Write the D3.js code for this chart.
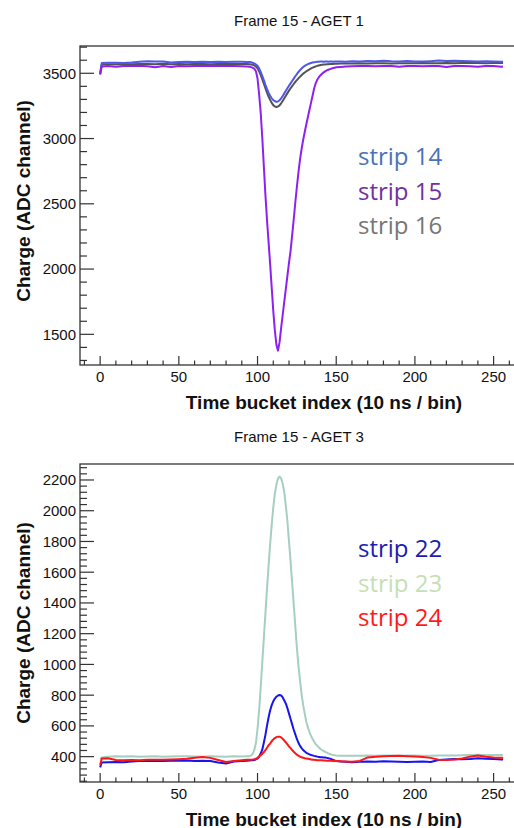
<!DOCTYPE html>
<html>
<head>
<meta charset="utf-8">
<script src="https://cdn.jsdelivr.net/npm/d3@7"></script>
<style>
  html, body { margin: 0; padding: 0; background: #fff; }
  svg { display: block; }
</style>
</head>
<body>
<svg id="chart" width="514" height="828"></svg>
<script>
// ---------------- DATA ----------------
// time bucket indices at which values were read (dense around the pulse)
const bins = [
  0,1,5,10,15,20,25,30,35,40,45,50,55,60,65,70,75,80,85,90,93,
  95,96,97,98,99,100,101,102,103,104,
  105,106,107,108,109,110,111,112,113,114,
  115,116,117,118,119,120,121,122,123,124,
  125,126,127,128,129,130,131,132,133,134,
  135,136,137,138,139,140,141,142,143,144,
  145,146,147,148,149,150,
  153,156,160,165,170,175,180,185,190,195,200,205,210,215,220,225,230,235,240,245,250,255,256
];

// Frame 15 - AGET 1
const strip14 = [
  3495,3578,3580,3581,3579,3582,3588,3592,3591,3590,3582,3586,3588,3587,3588,3586,3589,3587,3588,3588,3587,
  3586,3584,3580,3575,3568,3558,3538,3510,3480,3447,
  3412,3380,3352,3328,3308,3294,3286,3282,3284,3293,
  3308,3326,3346,3366,3386,3405,3423,3441,3459,3477,
  3494,3510,3524,3537,3548,3557,3564,3570,3575,3579,
  3582,3585,3586,3588,3589,3590,3590,3589,3591,3590,
  3589,3591,3590,3589,3590,3591,
  3590,3589,3592,3590,3595,3593,3596,3592,3590,3594,3591,3590,3593,3597,3594,3596,3594,3592,3590,3592,3590,3588,3589
];
const strip15 = [
  3490,3552,3556,3550,3556,3555,3557,3553,3546,3555,3548,3556,3554,3556,3555,3557,3555,3556,3555,3554,3552,
  3550,3547,3542,3535,3515,3460,3340,3200,3010,2790,
  2570,2380,2210,2040,1860,1680,1530,1420,1375,1440,
  1550,1650,1750,1850,1950,2050,2140,2260,2380,2510,
  2630,2740,2840,2920,2990,3050,3110,3165,3220,3275,
  3330,3385,3425,3452,3470,3485,3497,3507,3515,3522,
  3527,3532,3536,3540,3543,3546,
  3549,3552,3554,3555,3556,3554,3555,3556,3550,3555,3556,3554,3555,3556,3548,3555,3556,3554,3550,3556,3555,3550,3552
];
const strip16 = [
  3495,3568,3570,3569,3571,3570,3572,3571,3570,3573,3570,3571,3570,3572,3571,3570,3572,3571,3573,3572,3571,
  3570,3568,3565,3560,3552,3538,3515,3487,3455,3420,
  3385,3352,3322,3296,3273,3256,3246,3242,3245,3254,
  3270,3288,3308,3328,3348,3367,3385,3402,3418,3434,
  3448,3461,3474,3486,3497,3506,3515,3523,3530,3537,
  3543,3548,3553,3557,3560,3563,3565,3567,3568,3569,
  3570,3571,3572,3572,3573,3573,
  3574,3575,3575,3576,3575,3577,3576,3575,3577,3576,3577,3578,3576,3577,3578,3577,3578,3579,3578,3577,3579,3578,3578
];

// Frame 15 - AGET 3
const strip22 = [
  330,362,363,365,364,368,372,371,373,372,374,373,375,372,374,371,362,355,368,372,374,
  375,376,377,378,382,388,400,420,445,490,
  540,600,655,700,735,760,778,790,798,801,
  798,785,765,745,715,680,645,610,575,545,
  515,490,470,455,443,433,425,420,415,411,
  408,405,403,400,398,396,396,395,394,392,
  390,387,383,379,375,372,
  368,366,364,366,368,366,370,368,366,365,367,368,365,378,382,384,383,385,390,386,384,382,381
];
const strip23 = [
  385,395,400,403,401,402,400,401,402,400,401,403,402,401,400,402,401,400,402,401,402,
  403,408,420,445,490,580,700,850,1010,1170,
  1330,1490,1640,1780,1910,2020,2110,2170,2210,2222,
  2210,2175,2120,2030,1930,1800,1670,1530,1390,1250,
  1110,990,895,805,735,680,625,590,560,535,
  515,497,482,470,460,450,443,437,431,426,
  421,417,413,411,409,408,
  406,405,406,405,407,406,408,407,406,408,407,406,405,407,408,407,409,410,412,411,410,411,410
];
const strip24 = [
  345,388,390,378,376,378,376,379,380,379,381,383,386,393,398,392,378,365,372,377,379,
  380,380,381,383,386,392,400,410,418,430,
  442,458,474,485,500,512,521,527,530,530,
  525,516,505,493,480,467,455,443,432,422,
  413,406,400,396,393,390,388,386,384,382,
  380,379,378,377,377,376,376,375,375,374,
  374,373,373,372,372,372,
  370,368,366,372,395,400,402,404,405,403,401,398,392,380,378,382,388,400,408,400,395,393,390
];

const xMajorTicks = [0, 50, 100, 150, 200, 250];
const topYMajorTicks = [1500, 2000, 2500, 3000, 3500];
const bottomYMajorTicks = [400, 600, 800, 1000, 1200, 1400, 1600, 1800, 2000, 2200];
const topLegend = ["strip 14", "strip 15", "strip 16"];
const bottomLegend = ["strip 22", "strip 23", "strip 24"];

// ---------------- DRAW ----------------
const svg = d3.select("#chart");
const FONT = "'Liberation Sans', Arial, Helvetica, sans-serif";
const LEGEND_FONT = "'Open Sans', 'Noto Sans', sans-serif";

const x = d3.scaleLinear().domain([-12.8, 268.8]).range([80, 523.2]);

function drawPanel(cfg) {
  const y = d3.scaleLinear().domain(cfg.yDomain).range([cfg.bottom, cfg.top]);
  const g = svg.append("g");
  const clipId = "clip" + cfg.id;
  svg.append("clipPath").attr("id", clipId)
    .append("rect").attr("x", 80).attr("y", cfg.top)
    .attr("width", 443).attr("height", cfg.bottom - cfg.top);

  // title
  g.append("text").attr("x", 299).attr("y", cfg.titleY)
    .attr("text-anchor", "middle").attr("font-family", FONT)
    .attr("font-size", 15).attr("fill", "#111").text(cfg.title);

  // series
  const line = d3.line().x(d => x(d[0])).y(d => y(d[1]));
  const lg = g.append("g").attr("clip-path", `url(#${clipId})`);
  cfg.series.forEach(s => {
    const pts = bins.map((b, i) => [b, s.values[i]]);
    lg.append("path").datum(pts).attr("d", line)
      .attr("fill", "none").attr("stroke", s.color)
      .attr("stroke-width", 2).attr("stroke-linejoin", "round");
  });

  // frame
  g.append("rect").attr("x", 80).attr("y", cfg.top)
    .attr("width", 443).attr("height", cfg.bottom - cfg.top)
    .attr("fill", "none").attr("stroke", "#333").attr("stroke-width", 1.3);

  // x ticks (inside, pointing up)
  const xMinor = d3.range(-10, 261, 10);
  g.selectAll(null).data(xMinor).enter().append("line")
    .attr("x1", d => x(d)).attr("x2", d => x(d))
    .attr("y1", cfg.bottom)
    .attr("y2", d => cfg.bottom - (xMajorTicks.includes(d) ? 9 : 4.5))
    .attr("stroke", "#333").attr("stroke-width", 1.2);
  g.selectAll(null).data(xMajorTicks).enter().append("text")
    .attr("x", d => x(d)).attr("y", cfg.bottom + 16.5)
    .attr("text-anchor", "middle").attr("font-family", FONT)
    .attr("font-size", 15).attr("fill", "#111").text(d => d);

  // y ticks (inside, pointing right)
  const yMinor = d3.range(cfg.minorStart, cfg.yDomain[1], cfg.minorStep);
  g.selectAll(null).data(yMinor).enter().append("line")
    .attr("x1", 80).attr("y1", d => y(d)).attr("y2", d => y(d))
    .attr("x2", d => 80 + (cfg.yMajor.includes(d) ? 14 : 7))
    .attr("stroke", "#333").attr("stroke-width", 1.2);
  g.selectAll(null).data(cfg.yMajor).enter().append("text")
    .attr("x", 76).attr("y", d => y(d)).attr("dy", "0.36em")
    .attr("text-anchor", "end").attr("font-family", FONT)
    .attr("font-size", 15).attr("fill", "#111").text(d => d);

  // axis titles
  g.append("text").attr("x", 324).attr("y", cfg.bottom + 43.5)
    .attr("text-anchor", "middle").attr("font-family", FONT)
    .attr("font-weight", "bold").attr("font-size", 19).attr("fill", "#111")
    .text("Time bucket index (10 ns / bin)");
  g.append("text")
    .attr("transform", `translate(30,${cfg.yTitleCenter}) rotate(-90)`)
    .attr("text-anchor", "middle").attr("font-family", FONT)
    .attr("font-weight", "bold").attr("font-size", 19).attr("fill", "#111")
    .text("Charge (ADC channel)");

  // legend
  cfg.legend.forEach((t, i) => {
    g.append("text").attr("x", 358).attr("y", cfg.legendY + i * 34.7)
      .attr("font-family", LEGEND_FONT).attr("font-size", 24)
      .attr("fill", cfg.legendColors[i]).text(t);
  });
}

drawPanel({
  id: "top", title: "Frame 15 - AGET 1", titleY: 26,
  top: 46, bottom: 365, yDomain: [1265, 3709],
  yMajor: topYMajorTicks, minorStart: 1300, minorStep: 100,
  yTitleCenter: 201,
  series: [
    { values: strip16, color: "#535353" },
    { values: strip14, color: "#5058e8" },
    { values: strip15, color: "#9020f0" }
  ],
  legend: topLegend, legendY: 165,
  legendColors: ["#4a72b8", "#7030a0", "#767676"]
});

drawPanel({
  id: "bottom", title: "Frame 15 - AGET 3", titleY: 442,
  top: 464, bottom: 782, yDomain: [235, 2304],
  yMajor: bottomYMajorTicks, minorStart: 240, minorStep: 40,
  yTitleCenter: 623,
  series: [
    { values: strip23, color: "#a5cfc3" },
    { values: strip22, color: "#1515ee" },
    { values: strip24, color: "#ff1515" }
  ],
  legend: bottomLegend, legendY: 557,
  legendColors: ["#1c1cb0", "#c5dfb5", "#ff1a1a"]
});
</script>
</body>
</html>
